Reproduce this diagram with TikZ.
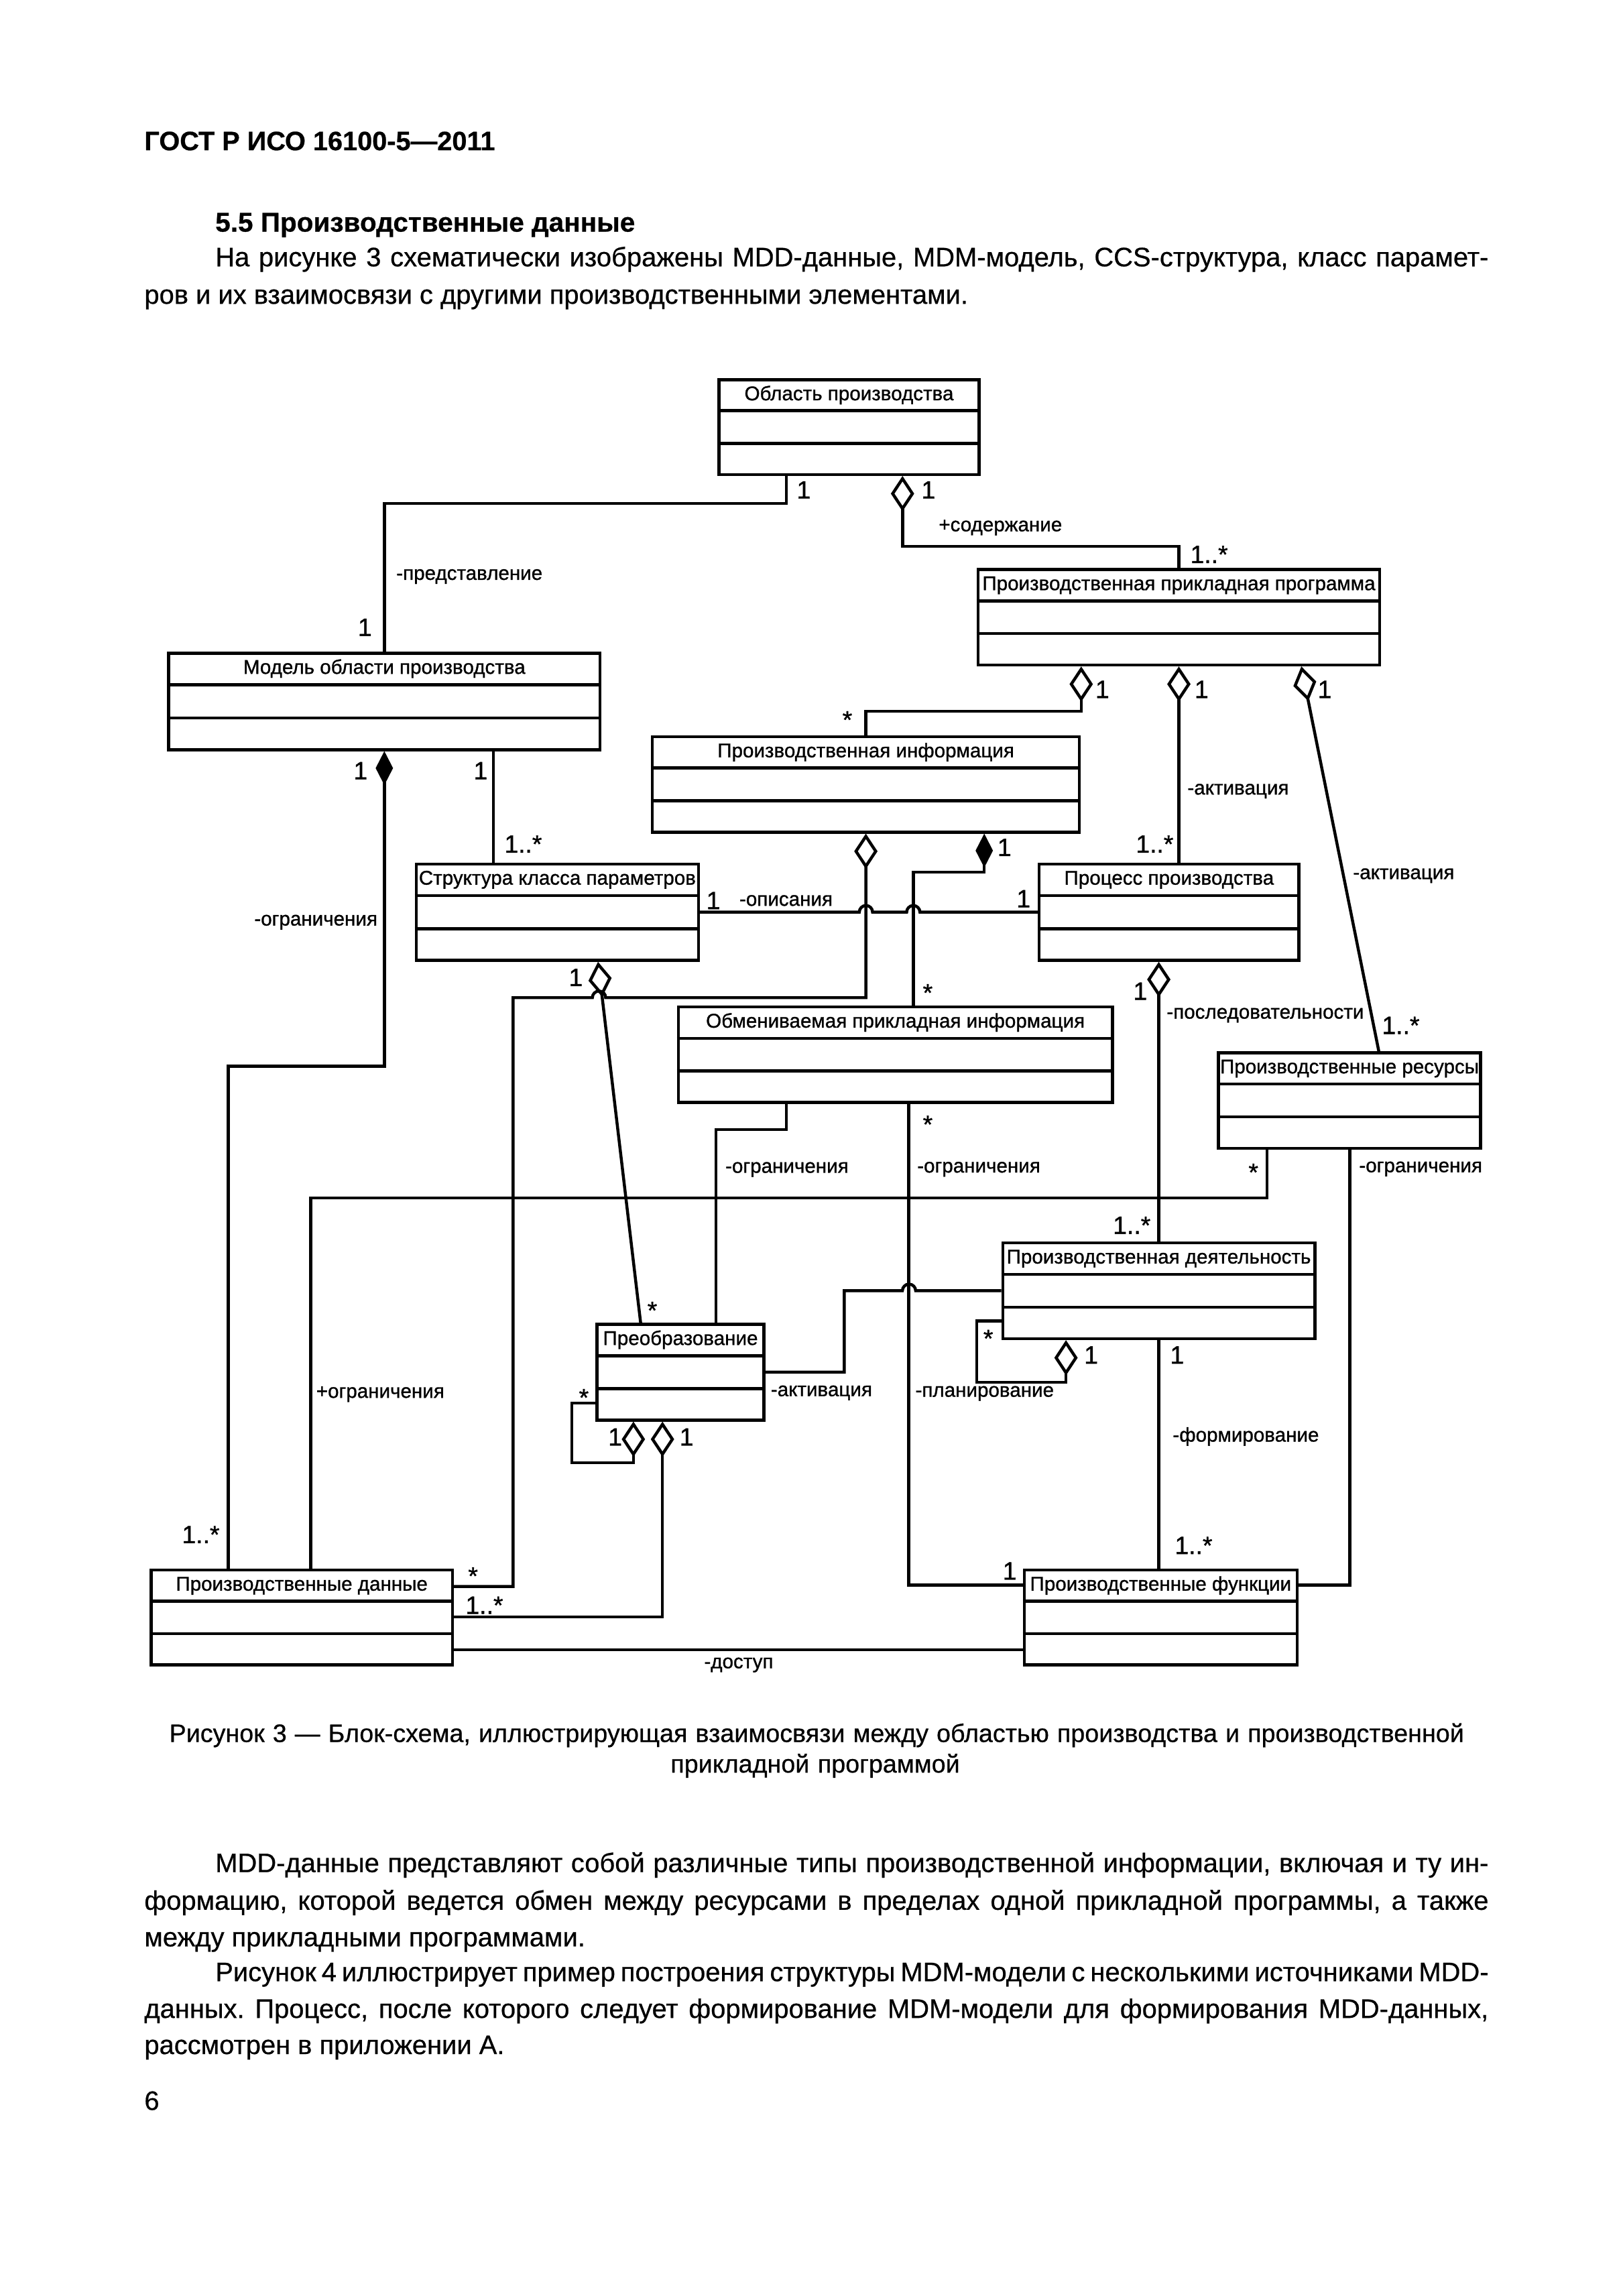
\documentclass[tikz,border=0pt]{standalone}
\usepackage{fontspec}
\setmainfont{Liberation Sans}[RawFeature={embolden=0.6}]
\newfontfamily\diafont{Liberation Sans}[RawFeature={embolden=1.0}]
\usetikzlibrary{calc,fit,arrows.meta}
\newcommand{\lw}{1.1pt}
\newcommand{\hop}{4.5}
\newlength{\px}
\setlength{\px}{0.19091mm}
% class box: name, left, top, right, bottom, title
\newcommand{\klass}[6]{%
\node[klass, fit={(#2,#3) (#4,#5)}] (#1) {};
\draw[line width=\lw] ($(#1.north west)!1/3!(#1.south west)$) -- ($(#1.north east)!1/3!(#1.south east)$);
\draw[line width=\lw] ($(#1.north west)!2/3!(#1.south west)$) -- ($(#1.north east)!2/3!(#1.south east)$);
\node[klassname] (#1-title) at ($(#1.north)+(0,15)$) {#6};
}
\tikzset{
klass/.style={draw, line width=\lw, inner sep=0pt},
klassname/.style={anchor=base, inner sep=0pt, font=\diafont\fontsize{7.3}{8}\selectfont},
conn/.style={line width=\lw},
mult/.style={anchor=base, inner sep=0pt, font=\diafont\fontsize{9.2}{10}\selectfont},
multw/.style={mult, anchor=base west},
role/.style={anchor=base west, inner sep=0pt, font=\diafont\fontsize{7.3}{8}\selectfont},
body/.style={anchor=base west, inner sep=0pt, font=\fontsize{9.85}{12}\selectfont},
agg/.tip={Diamond[open, length=13pt, width=8.6pt]},
comp/.tip={Diamond[length=12.5pt, width=6.4pt]},
}
\frenchspacing

\begin{document}
\begin{tikzpicture}[x=0.19091mm, y=-0.19091mm]
\fill[white] (0,0) rectangle (1100,1556.2);
\useasboundingbox (0,0) rectangle (1100,1556.2);

%page text
\node[body, font=\fontsize{9.8}{12}\selectfont\bfseries] (gost) at (97.5,101.8) {ГОСТ Р ИСО 16100-5—2011};
\node[body, font=\fontsize{10}{12}\selectfont\bfseries] (sect) at (145.6,157) {5.5 Производственные данные};
\node[body] (p1) at (145.6,180.5) {\makebox[862.9\px][s]{На рисунке 3 схематически изображены MDD-данные, MDM-модель, CCS-структура, класс парамет-}};
\node[body] (p2) at (97.5,205.9) {ров и их взаимосвязи с другими производственными элементами.};

%classes
\klass{obl}{487.3}{257.3}{663.6}{321.6}{Область производства}
\klass{app}{662.9}{386}{935.1}{450.7}{Производственная прикладная программа}
\klass{model}{114.3}{442.7}{406.7}{508.1}{Модель области производства}
\klass{info}{442.1}{499.3}{731.6}{564}{Производственная информация}
\klass{pcs}{282.1}{585.6}{473.4}{650.9}{Структура класса параметров}
\klass{proc}{704.3}{585.6}{880.4}{650.9}{Процесс производства}
\klass{xinfo}{459.7}{682.5}{754}{747.1}{Обмениваемая прикладная информация}
\klass{res}{825.8}{713.5}{1003.5}{778.3}{Производственные ресурсы}
\klass{act}{679.6}{842.4}{891.2}{907.3}{Производственная деятельность}
\klass{trans}{404.7}{897.6}{517.7}{962.5}{Преобразование}
\klass{data}{102.4}{1064.1}{306.7}{1128.4}{Производственные данные}
\klass{func}{694.2}{1064.1}{879.1}{1128.4}{Производственные функции}

%connectors
\draw[conn] (obl.south -| 532.9,0) -- ++(0,18.5) -| (model.north);
\draw[conn, agg-] (obl.south -| 611.7,0) -- ++(0,47.8) -| (app.north);
\draw[conn, agg-] (app.south -| 732.8,0) -- ++(0,30.3) -| (info.north);
\draw[conn, agg-] (app.south) -- (proc.north -| app.south);
\draw[conn, agg-] (app.south -| 882,0) -- (res.north -| 934.5,0);
\draw[conn, comp-] (model.south) -- ++(0,213.5) -| (data.north -| 154.7,0);
\draw[conn] (model.south -| 334.3,0) -- (pcs.north -| 334.3,0);
\draw[conn, agg-] (info.south) |- ({406+\hop},676.2) arc[start angle=0, end angle=-180, radius=\hop] -- (347.8,676.2) |- (data.east |- 0,1075.3);
\draw[conn, comp-] (info.south -| 667.1,0) -- ++(0,26.2) -| (xinfo.north -| 619,0);
\draw[conn] (pcs.east) -- ({586.9-\hop},618.25) arc[start angle=180, end angle=360, radius=\hop] -- ({619-\hop},618.25) arc[start angle=180, end angle=360, radius=\hop] -- (proc.west);
\draw[conn, agg-] (pcs.south -| 405.3,0) -- (trans.north -| 434.2,0);
\draw[conn, agg-] (proc.south -| act.north) -- (act.north);
\draw[conn] (xinfo.south -| 532.9,0) -- ++(0,17.4) -| (trans.north -| 485.2,0);
\draw[conn] (xinfo.south -| 615.9,0) |- (func.west |- 0,1074.3);
\draw[conn] (res.south -| 858.7,0) -- ++(0,32.6) -| (data.north -| 210.6,0);
\draw[conn] (res.south -| 914.8,0) |- (func.east |- 0,1074.3);
\draw[conn] (act.west) -- ({616.1+\hop},874.85) arc[start angle=0, end angle=-180, radius=\hop] -- (572.2,874.85) |- (trans.east);
\draw[conn, agg-] (act.south -| 722.5,0) -- ++(0,28.5) -| (661.9,895.3) -- (act.west |- 0,895.3);
\draw[conn] (act.south) -- (func.north -| act.south);
\draw[conn, agg-] (trans.south -| 429.3,0) -- ++(0,27.8) -| (387.6,950.9) -- (trans.west |- 0,950.9);
\draw[conn, agg-] (trans.south -| 449,0) |- (data.east |- 0,1096);
\draw[conn] (data.east |- 0,1118.3) -- (func.west |- 0,1118.3);

%multiplicities
\node[mult] (m1) at (544.7,337.9) {1};
\node[mult] (m2) at (247.3,431) {1};
\node[mult] (m3) at (629.2,337.9) {1};
\node[multw] (m4) at (806.4,381.6) {1..*};
\node[mult] (m5) at (747.1,473.1) {1};
\node[mult] (m6) at (814.4,473.1) {1};
\node[mult] (m7) at (897.9,473.1) {1};
\node[mult] (m8) at (574.3,493.7) {*};
\node[multw] (m9) at (769.5,577.9) {1..*};
\node[mult] (m10) at (244.4,528.2) {1};
\node[mult] (m11) at (325.7,528.2) {1};
\node[multw] (m12) at (341.5,577.9) {1..*};
\node[mult] (m13) at (680.8,580.2) {1};
\node[mult] (m14) at (483.5,616.2) {1};
\node[mult] (m15) at (693.7,615) {1};
\node[mult] (m16) at (390.2,668.3) {1};
\node[mult] (m17) at (772.8,677.6) {1};
\node[mult] (m18) at (628.8,678.7) {*};
\node[multw] (m19) at (936.3,700.8) {1..*};
\node[mult] (m20) at (628.8,767.9) {*};
\node[mult] (m21) at (849.5,800.4) {*};
\node[multw] (m22) at (754,836.3) {1..*};
\node[mult] (m23) at (442.1,894) {*};
\node[mult] (m24) at (669.8,913) {*};
\node[mult] (m25) at (739.5,924.2) {1};
\node[mult] (m26) at (797.8,924.2) {1};
\node[mult] (m27) at (395.7,953.1) {*};
\node[mult] (m28) at (416.9,979.8) {1};
\node[mult] (m29) at (465.3,979.8) {1};
\node[multw] (m30) at (123,1045.9) {1..*};
\node[mult] (m31) at (320.6,1074) {*};
\node[multw] (m32) at (315.2,1093.8) {1..*};
\node[multw] (m33) at (795.9,1053.3) {1..*};
\node[mult] (m34) at (684.3,1070.6) {1};

%roles
\node[role] (r1) at (268.3,393) {-представление};
\node[role] (r2) at (635.9,360.1) {+содержание};
\node[role] (r3) at (804.5,538.5) {-активация};
\node[role] (r4) at (916.7,595.8) {-активация};
\node[role] (r5) at (172,627.3) {-ограничения};
\node[role] (r6) at (500.8,613.9) {-описания};
\node[role] (r7) at (790.4,690.4) {-последовательности};
\node[role] (r8) at (491.3,794.9) {-ограничения};
\node[role] (r9) at (621.3,794.7) {-ограничения};
\node[role] (r10) at (920.8,794.5) {-ограничения};
\node[role] (r11) at (214,947.4) {+ограничения};
\node[role] (r12) at (522.1,946.3) {-активация};
\node[role] (r13) at (620.1,946.7) {-планирование};
\node[role] (r14) at (794.5,977.1) {-формирование};
\node[role, anchor=base] (r15) at (500.7,1130.7) {-доступ};

%caption and text below
\node[body, font=\fontsize{9.3}{11}\selectfont] (cap1) at (114.4,1180.7) {\makebox[877.5\px][s]{Рисунок 3 — Блок-схема, иллюстрирующая взаимосвязи между областью производства и производственной}};
\node[body, anchor=base, font=\fontsize{9.3}{11}\selectfont] (cap2) at (552.5,1201.4) {\makebox[196\px][s]{прикладной программой}};
\node[body] (q1) at (145.6,1268.9) {\makebox[862.9\px][s]{MDD-данные представляют собой различные типы производственной информации, включая и ту ин-}};
\node[body] (q2) at (97.5,1294.4) {\makebox[911\px][s]{формацию, которой ведется обмен между ресурсами в пределах одной прикладной программы, а также}};
\node[body] (q3) at (97.5,1319.2) {между прикладными программами.};
\node[body] (q4) at (145.6,1342.8) {\makebox[862.9\px][s]{Рисунок 4 иллюстрирует пример построения структуры MDM-модели с несколькими источниками MDD-}};
\node[body] (q5) at (97.5,1367.7) {\makebox[911\px][s]{данных. Процесс, после которого следует формирование MDM-модели для формирования MDD-данных,}};
\node[body] (q6) at (97.5,1392.2) {рассмотрен в приложении А.};
\node[body] (pg) at (97.5,1430.1) {6};
\end{tikzpicture}
\end{document}
